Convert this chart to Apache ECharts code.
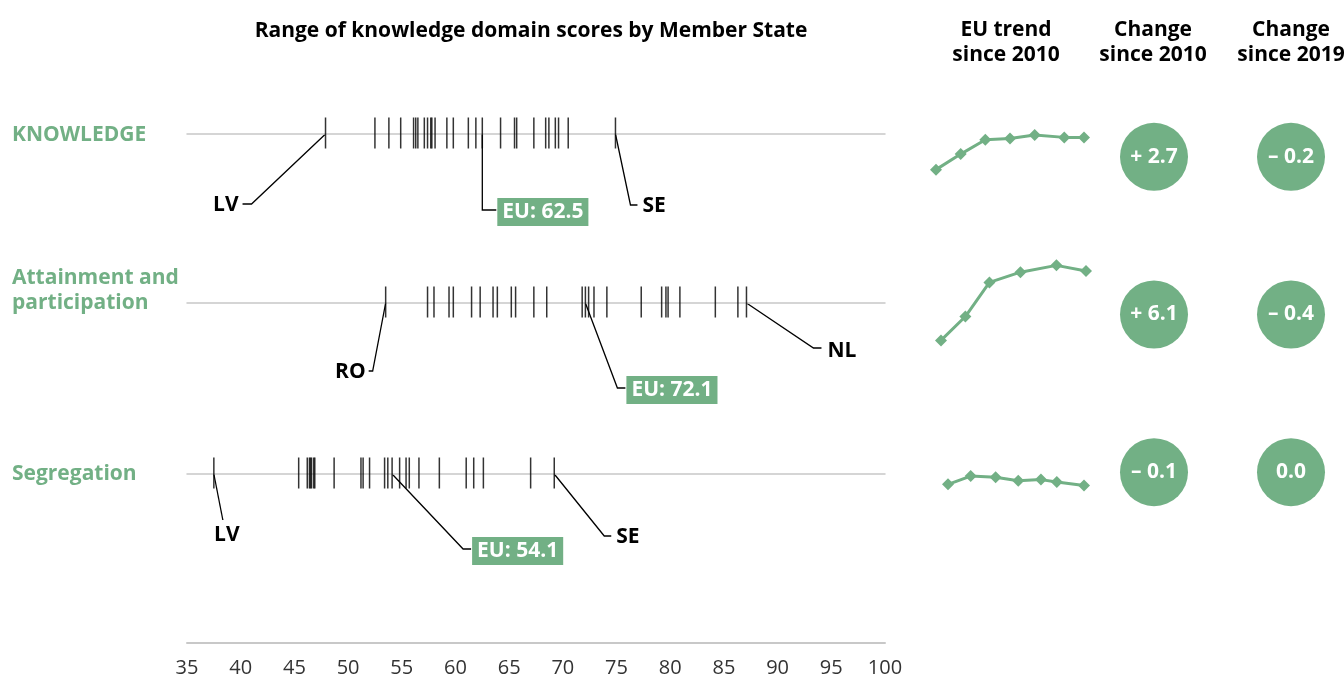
<!DOCTYPE html>
<html>
<head>
<meta charset="utf-8">
<script src="https://cdn.jsdelivr.net/npm/echarts@6.0.0/dist/echarts.min.js"></script>
<style>
  html, body { margin: 0; padding: 0; background: #fff; }
  #chart { width: 1344px; height: 678px; }
</style>
</head>
<body>
<div id="chart"></div>
<script>
// --- data ---
var domains = ['KNOWLEDGE', 'Attainment and\nparticipation', 'Segregation'];

var knowledgeScores = [47.9, 52.5, 53.8, 54.9, 56.1, 56.3, 56.5, 57.1, 57.4, 57.7, 57.8, 58.1, 59.2,
  59.8, 61.2, 61.9, 64.2, 65.5, 65.7, 67.3, 68.4, 68.7, 69.3, 69.6, 70.5, 74.9];
var attainmentScores = [53.5, 57.4, 58.0, 59.4, 59.8, 61.5, 62.3, 63.5, 63.9, 65.2, 65.6, 67.3, 68.5,
  71.8, 72.4, 72.9, 74.1, 77.3, 79.2, 79.6, 79.8, 80.9, 84.2, 86.3, 87.1];
var segregationScores = [37.5, 45.4, 46.2, 46.4, 46.5, 46.6, 46.8, 46.9, 48.7, 51.2, 51.4, 52.0, 53.4,
  53.7, 54.8, 55.4, 55.7, 56.6, 58.5, 61.0, 61.7, 62.6, 67.0, 69.2];

var euScores = [62.5, 72.1, 54.1];
var lowCodes = ['LV', 'RO', 'LV'];
var highCodes = ['SE', 'NL', 'SE'];

var trendKnowledge = [59.8, 61.1, 62.3, 62.4, 62.7, 62.5, 62.5];
var trendKnowledgePos = [0, 1, 2, 3, 4, 5.2, 6];
var trendAttainment = [66.0, 68.1, 71.1, 72.0, 72.6, 72.1];
var trendAttainmentPos = [0, 0.84, 1.67, 2.74, 3.98, 5];
var trendSegregation = [54.2, 54.9, 54.8, 54.5, 54.6, 54.4, 54.1];
var trendSegregationPos = [0, 1, 2.1, 3.1, 4.1, 4.8, 6];

var change2010 = [2.7, 6.1, -0.1];
var change2019 = [-0.2, -0.4, 0.0];
var changeCols = ['Change since 2010', 'Change since 2019'];

// --- layout / style ---
var green = '#72b085';
var font = '"Open Sans", "Noto Sans", sans-serif';
var rowLineY = [134, 303, 474];
var allScores = [knowledgeScores, attainmentScores, segregationScores];
var trends = [trendKnowledge, trendAttainment, trendSegregation];
var trendPos = [trendKnowledgePos, trendAttainmentPos, trendSegregationPos];
var trendGrids = [
  {left: 936, width: 148, top: 131.4, height: 47.8, min: 59, max: 63, xmax: 6},
  {left: 941, width: 145, top: 260.8, height: 91, min: 65, max: 73, xmax: 5},
  {left: 948, width: 136, top: 468.9, height: 23.8, min: 53.5, max: 55.5, xmax: 6}
];

var lowAnn = [
  {pts: [[-74, 70], [-83, 70]], text: [-87, 71], align: 'right'},
  {pts: [[-13, 68], [-17, 68]], text: [-20, 69], align: 'right'},
  {pts: [[9, 46]], text: [13, 61], align: 'center'}
];
var highAnn = [
  {pts: [[15, 71], [22, 71]], text: [27, 72], align: 'left'},
  {pts: [[67, 45], [75, 45]], text: [81, 48], align: 'left'},
  {pts: [[50, 62], [57, 62]], text: [62, 63], align: 'left'}
];
var euAnn = [
  {pts: [[0, 76], [14, 76]], box: [15, 78]},
  {pts: [[32, 85], [40, 85]], box: [41, 87]},
  {pts: [[71, 75], [79, 75]], box: [80, 77]}
];

function fmtChange(v) {
  if (v > 0) return '+ ' + v.toFixed(1);
  if (v < 0) return '\u2013 ' + Math.abs(v).toFixed(1);
  return v.toFixed(1);
}

var grid = [], xAxis = [], yAxis = [], series = [];

// strip rows
for (var i = 0; i < 3; i++) {
  grid.push({left: 187, right: 459, top: rowLineY[i] - 20, height: 40});
  xAxis.push({
    type: 'value', gridIndex: i, min: 35, max: 100,
    axisLine: {show: true, onZero: true, lineStyle: {color: '#c8c8c8', width: 1.5}},
    axisTick: {show: false}, axisLabel: {show: false}, splitLine: {show: false}
  });
  yAxis.push({type: 'value', gridIndex: i, min: -1, max: 1, show: false});
  series.push({
    type: 'scatter', xAxisIndex: i, yAxisIndex: i, silent: true,
    symbol: 'rect', symbolSize: [1.5, 31], symbolOffset: [0, -1],
    itemStyle: {color: '#000'},
    data: allScores[i].concat([euScores[i]]).map(function (v) { return [v, 0]; })
  });
}

// bottom scale
grid.push({left: 187, right: 459, top: 600, height: 43});
xAxis.push({
  type: 'value', gridIndex: 3, min: 35, max: 100, interval: 5,
  axisLine: {show: true, lineStyle: {color: '#c8c8c8', width: 2}},
  axisTick: {show: false}, splitLine: {show: false},
  axisLabel: {margin: 15, fontSize: 20, color: '#333', fontFamily: font}
});
yAxis.push({type: 'value', gridIndex: 3, show: false});

// trend sparklines
for (var j = 0; j < 3; j++) {
  var g = trendGrids[j];
  var gi = 4 + j;
  grid.push({left: g.left, width: g.width, top: g.top, height: g.height});
  xAxis.push({type: 'value', gridIndex: gi, min: 0, max: g.xmax, show: false});
  yAxis.push({type: 'value', gridIndex: gi, min: g.min, max: g.max, show: false});
  series.push({
    type: 'line', xAxisIndex: gi, yAxisIndex: gi, silent: true,
    symbol: 'diamond', symbolSize: 12, showSymbol: true,
    lineStyle: {color: green, width: 3}, itemStyle: {color: green},
    data: trends[j].map(function (v, k) { return [trendPos[j][k], v]; })
  });
}

// change circles
grid.push({left: 1154, width: 137, top: 78, height: 473});
xAxis.push({type: 'category', gridIndex: 7, data: changeCols, boundaryGap: false, show: false});
yAxis.push({type: 'category', gridIndex: 7, data: domains, inverse: true, show: false});
var circleData = [];
for (var r = 0; r < 3; r++) {
  circleData.push([0, r, change2010[r]]);
  circleData.push([1, r, change2019[r]]);
}
series.push({
  type: 'scatter', xAxisIndex: 7, yAxisIndex: 7, silent: true,
  symbol: 'circle', symbolSize: 68, itemStyle: {color: green, opacity: 1},
  label: {
    show: true, position: 'inside', color: '#fff', fontSize: 21, fontWeight: 'bold', fontFamily: font,
    formatter: function (p) { return fmtChange(p.value[2]); }
  },
  data: circleData
});

var myChart = echarts.init(document.getElementById('chart'));
myChart.setOption({
  animation: false,
  backgroundColor: '#fff',
  grid: grid, xAxis: xAxis, yAxis: yAxis, series: series
});

// headings and annotations, placed from the axes' own pixel positions
var graphic = [];
function addText(x, y, text, opts) {
  graphic.push({
    type: 'text', x: x, y: y, silent: true,
    style: Object.assign({
      text: text, fill: '#000', font: 'bold 21px ' + font,
      align: 'left', verticalAlign: 'middle'
    }, opts || {})
  });
}
addText(531, 31, 'Range of knowledge domain scores by Member State', {align: 'center'});
addText(1006, 43, 'EU trend\nsince 2010', {align: 'center', lineHeight: 25});
addText(1153, 43, 'Change\nsince 2010', {align: 'center', lineHeight: 25});
addText(1291, 43, 'Change\nsince 2019', {align: 'center', lineHeight: 25});
var rowLabelY = [135, 291, 474];
for (var d = 0; d < 3; d++) {
  addText(12, rowLabelY[d], domains[d], {fill: green, font: 'bold 21px ' + font, lineHeight: 25});
}

function addConnector(base, ann) {
  var pts = [[base[0], base[1]]].concat(ann.pts.map(function (p) {
    return [base[0] + p[0], base[1] + p[1]];
  }));
  graphic.push({
    type: 'polyline', silent: true,
    shape: {points: pts},
    style: {stroke: '#000', lineWidth: 1.3, fill: null}
  });
}

for (var k = 0; k < 3; k++) {
  var scores = allScores[k];
  var lo = Math.min.apply(null, scores);
  var hi = Math.max.apply(null, scores);
  var pLo = myChart.convertToPixel({gridIndex: k}, [lo, 0]);
  var pHi = myChart.convertToPixel({gridIndex: k}, [hi, 0]);
  var pEu = myChart.convertToPixel({gridIndex: k}, [euScores[k], 0]);

  addConnector(pLo, lowAnn[k]);
  addText(pLo[0] + lowAnn[k].text[0], pLo[1] + lowAnn[k].text[1], lowCodes[k], {align: lowAnn[k].align});
  addConnector(pHi, highAnn[k]);
  addText(pHi[0] + highAnn[k].text[0], pHi[1] + highAnn[k].text[1], highCodes[k], {align: highAnn[k].align});
  addConnector(pEu, euAnn[k]);
  addText(pEu[0] + euAnn[k].box[0], pEu[1] + euAnn[k].box[1], 'EU: ' + euScores[k].toFixed(1), {
    fill: '#fff', backgroundColor: green, padding: [4, 5, 3, 5]
  });
}

myChart.setOption({graphic: graphic});
</script>
</body>
</html>
